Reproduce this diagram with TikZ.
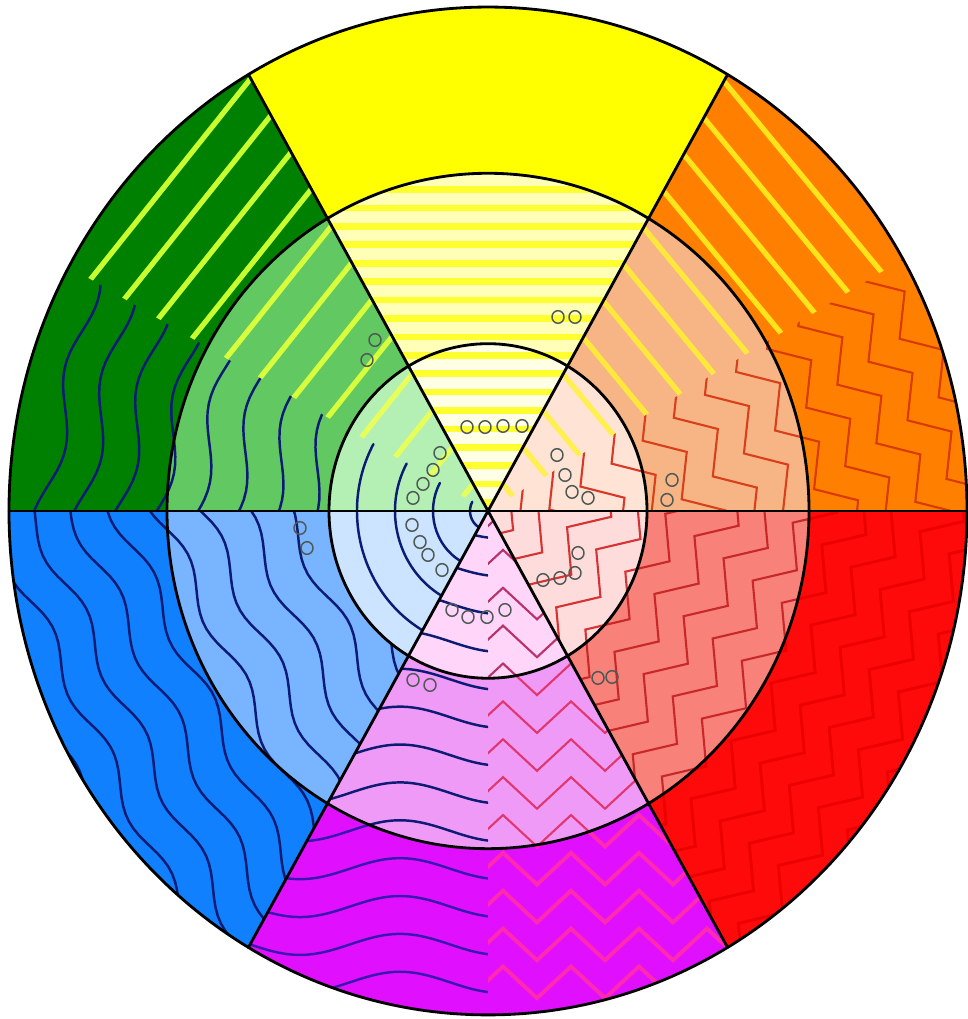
\documentclass[tikz,border=0pt]{standalone}
\usepackage{xcolor}
\usepackage{tikz}
\definecolor{orangeout}{HTML}{FF8000}
\definecolor{orangemid}{HTML}{F7B585}
\definecolor{orangein}{HTML}{FFE4D6}
\definecolor{yellowout}{HTML}{FFFF00}
\definecolor{yellowmid}{HTML}{FFFFB8}
\definecolor{yellowin}{HTML}{FFFFE6}
\definecolor{greenout}{HTML}{008000}
\definecolor{greenmid}{HTML}{62C862}
\definecolor{greenin}{HTML}{B4F0B4}
\definecolor{blueout}{HTML}{1080FF}
\definecolor{bluemid}{HTML}{78B4FF}
\definecolor{bluein}{HTML}{CCE4FF}
\definecolor{magentaout}{HTML}{E010FF}
\definecolor{magentamid}{HTML}{F09AF8}
\definecolor{magentain}{HTML}{FFD6FA}
\definecolor{redout}{HTML}{FF0A0A}
\definecolor{redmid}{HTML}{F8817A}
\definecolor{redin}{HTML}{FFDCDC}
\definecolor{sunstripe}{HTML}{FFFF30}
\definecolor{limeout}{HTML}{C8FF2E}
\definecolor{limemid}{HTML}{D8FF3C}
\definecolor{limein}{HTML}{E6FF5A}
\definecolor{goldout}{HTML}{FFE41A}
\definecolor{goldmid}{HTML}{FFE83C}
\definecolor{goldin}{HTML}{FFF050}
\definecolor{navywave}{HTML}{0C1C74}
\definecolor{violetwave}{HTML}{3A18B0}
\definecolor{rustout}{HTML}{D83A00}
\definecolor{rustmid}{HTML}{D8401C}
\definecolor{rustin}{HTML}{D83828}
\definecolor{redfaint}{HTML}{EC0000}
\definecolor{crimsonmid}{HTML}{C82828}
\definecolor{crimsonin}{HTML}{D43434}
\definecolor{pinkout}{HTML}{FF2AB0}
\definecolor{pinkmid}{HTML}{E0386E}
\definecolor{pinkin}{HTML}{B83268}
\definecolor{ringgray}{HTML}{4F5A55}
\tikzset{
every picture/.style={line cap=round,line join=round},
sector/.style n args={4}{insert path={(#3:#1) arc[start angle=#3,end angle=#4,radius=#1] -- (#4:#2) arc[start angle=#4,end angle=#3,radius=#2] -- cycle}},
wheel edge/.style={draw=black, line width=1.6pt},
flat stripe/.style={draw=sunstripe, line width=3.8pt, line cap=butt},
band stripe/.style={line width=3pt, line cap=butt},
wave line/.style={draw=navywave, line width=1.4pt},
zig line/.style={line width=1.2pt, line join=miter},
ring mark/.style={draw=ringgray, line width=0.85pt}
}
\begin{document}
\begin{tikzpicture}[x=0.02cm,y=0.02cm,yscale=1.052]
\useasboundingbox (-488,-482.9) rectangle (479,485.7);
\coordinate (O) at (0,0);
\foreach \ra/\rb/\a/\col in {321/479/0/orangeout,321/479/60/yellowout,321/479/120/greenout,321/479/180/blueout,321/479/240/magentaout,321/479/300/redout,
159/321/0/orangemid,159/321/60/yellowmid,159/321/120/greenmid,159/321/180/bluemid,159/321/240/magentamid,159/321/300/redmid,
0.01/159/0/orangein,0.01/159/60/yellowin,0.01/159/120/greenin,0.01/159/180/bluein,0.01/159/240/magentain,0.01/159/300/redin}
  \fill[\col,sector={\ra}{\rb}{\a}{\a+60}];

\foreach \ra/\rb in {159/321,0.01/159}{
\begin{scope}
\clip[sector={\ra}{\rb}{60}{120}];
\foreach \o in {8,25.5,...,320} \draw[flat stripe] (-200,\o) -- (200,\o);
\end{scope}
}

\foreach \ra/\rb/\col in {321/479/limeout,159/321/limemid,0.01/159/limein}{
\begin{scope}
\clip[sector={\ra}{\rb}{120}{151}];
\foreach \o in {28,66,...,446} \draw[band stripe,\col,rotate=50] (-520,\o) -- (520,\o);
\end{scope}
}

\foreach \ra/\rb/\col in {321/479/goldout,159/321/goldmid,0.01/159/goldin}{
\begin{scope}
\clip[sector={\ra}{\rb}{30}{60}];
\foreach \o in {28,66,...,446} \draw[band stripe,\col,rotate=-49] (-520,\o) -- (520,\o);
\end{scope}
}

\foreach \ra/\rb in {321/479,159/321}{
\begin{scope}
\clip[sector={\ra}{\rb}{151}{180}];
\foreach \o in {27,64,...,434} \draw[wave line,rotate=77] plot[domain=-500:500,samples=126] (\x,{\o+9*sin(2.4*\x)});
\end{scope}
}

\foreach \ra/\rb in {321/479,159/321}{
\begin{scope}
\clip[sector={\ra}{\rb}{180}{240}];
\foreach \o in {28,66,...,484} \draw[wave line,rotate=117] plot[domain=-500:500,samples=126] (\x,{\o+8*sin(2.769*\x)});
\end{scope}
}

\foreach \r in {18,55,93,131} \draw[wave line] (151:\r) arc[start angle=151,end angle=240,radius=\r];

\foreach \ra/\rb/\col in {321/479/violetwave,159/321/navywave,0.01/159/navywave}{
\begin{scope}
\clip[sector={\ra}{\rb}{240}{270}];
\foreach \o in {16,52,...,448} \draw[wave line,draw=\col] plot[domain=-480:0,samples=97] (\x,{-\o+10*cos(1.8*(\x+88))});
\end{scope}
}

\foreach \ra/\rb/\col/\lw in {321/479/pinkout/2.2pt,159/321/pinkmid/1.2pt,0.01/159/pinkin/1.2pt}{
\begin{scope}
\clip[sector={\ra}{\rb}{270}{300}];
\foreach \o in {16,52,...,448} \draw[zig line,\col,line width=\lw] plot[domain=-495:525,samples=31] (\x,{-\o+15*cos(5.2941176*(\x-15))});
\end{scope}
}

\foreach \ra/\rb/\col/\lw in {321/479/redfaint/1.6pt,159/321/crimsonmid/1.2pt,0.01/159/crimsonin/1.2pt}{
\begin{scope}
\clip[sector={\ra}{\rb}{300}{360}];
\foreach \o in {16,52,...,484} \draw[zig line,\col,line width=\lw,rotate=-126] plot[domain=-510:510,samples=31] (\x,{\o+15*cos(5.2941176*\x)});
\end{scope}
}

\foreach \ra/\rb/\col in {321/479/rustout,159/321/rustmid,0.01/159/rustin}{
\begin{scope}
\clip[sector={\ra}{\rb}{0}{30}];
\foreach \o in {28,66,...,484} \draw[zig line,\col,rotate=-55] plot[domain=-510:510,samples=31] (\x,{\o+15*cos(5.2941176*\x)});
\end{scope}
}

\foreach \px/\py in {-21/79.8,-3/79.8,15/80.8,34/80.8,-48/55.1,-55/39,-65/25.7,-75/12.4,
-76/-13.3,-68/-29.5,-60/-41.8,-46/-56.1,-36/-94.1,-20/-100.8,-1/-100.8,17/-94.1,
55/-65.6,72/-63.7,87/-58.9,90/-39.9,69/53.2,77/34.2,84/18.1,100/12.4,
-113/162.5,-121/143.5,70/184.4,87/184.4,184/29.5,179/10.5,110/-158.7,124/-157.8,
-188/-16.2,-181/-35.2,-75/-160.6,-58/-165.4}
  \draw[ring mark] (\px,\py) circle (6);

\foreach \a in {0,60,120} \draw[wheel edge] (\a:479) -- (\a+180:479);
\foreach \r in {159,321,479} \draw[wheel edge] (O) circle (\r);
\end{tikzpicture}
\end{document}
